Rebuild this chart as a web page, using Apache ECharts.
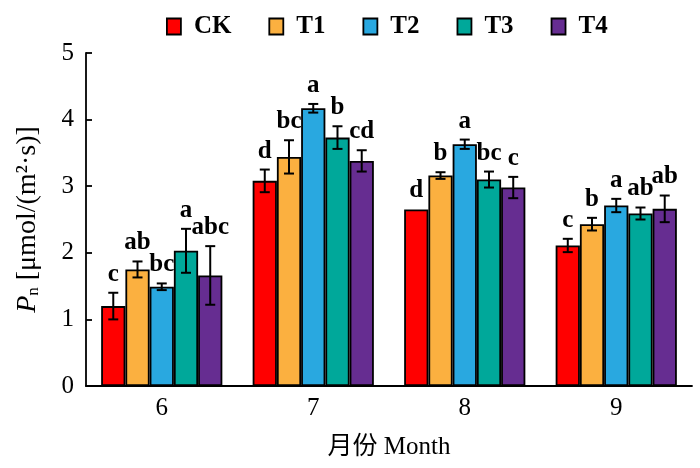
<!DOCTYPE html>
<html>
<head>
<meta charset="utf-8">
<script src="https://cdn.jsdelivr.net/npm/echarts@6/dist/echarts.min.js"></script>
<style>
  html, body { margin: 0; padding: 0; background: #fff; }
  #main { width: 700px; height: 468px; }
</style>
</head>
<body>
<div id="main"></div>
<script>
// months on the x axis
var months = ['6', '7', '8', '9'];
var groups = ['CK', 'T1', 'T2', 'T3', 'T4'];
var colors = ['#ff0000', '#fbb040', '#29a8e0', '#00a89a', '#662d91'];

// Pn means per treatment
var ckVals = [1.20, 3.08, 2.65, 2.11];
var t1Vals = [1.75, 3.44, 3.16, 2.43];
var t2Vals = [1.49, 4.17, 3.63, 2.71];
var t3Vals = [2.03, 3.73, 3.10, 2.59];
var t4Vals = [1.66, 3.38, 2.98, 2.66];

// error bars (+/-)
var ckErr = [0.20, 0.17, 0.00, 0.10];
var t1Err = [0.12, 0.25, 0.05, 0.095];
var t2Err = [0.05, 0.065, 0.07, 0.10];
var t3Err = [0.33, 0.17, 0.12, 0.09];
var t4Err = [0.44, 0.16, 0.16, 0.20];

// significance letters
var ckSig = ['c', 'd', 'd', 'c'];
var t1Sig = ['ab', 'bc', 'b', 'b'];
var t2Sig = ['bc', 'a', 'a', 'a'];
var t3Sig = ['a', 'b', 'bc', 'ab'];
var t4Sig = ['abc', 'cd', 'c', 'ab'];

var yTicks = [0, 1, 2, 3, 4, 5];

var allVals = [ckVals, t1Vals, t2Vals, t3Vals, t4Vals];
var allErr = [ckErr, t1Err, t2Err, t3Err, t4Err];
var allSig = [ckSig, t1Sig, t2Sig, t3Sig, t4Sig];

var serif = '"Liberation Serif", "Times New Roman", serif';

var errData = [];
var errSig = [];
for (var s = 0; s < groups.length; s++) {
    for (var c = 0; c < months.length; c++) {
        errData.push([c, allVals[s][c], allErr[s][c], s]);
        errSig.push(allSig[s][c]);
    }
}

var series = [];
for (var i = 0; i < groups.length; i++) {
    series.push({
        name: groups[i],
        type: 'bar',
        data: allVals[i],
        barGap: '0%',
        barCategoryGap: '20%',
        itemStyle: { color: colors[i], borderColor: '#000', borderWidth: 1.8 }
    });
}

series.push({
    type: 'custom',
    name: 'err',
    data: errData,
    encode: { x: 0, y: 1 },
    z: 10,
    renderItem: function (params, api) {
        var cat = api.value(0), v = api.value(1), e = api.value(2), idx = api.value(3);
        var band = api.size([1, 0])[0];
        var w = band * 0.8 / 5;
        var cx = api.coord([cat, v])[0] + (idx - 2) * w;
        var top = api.coord([cat, v + e])[1];
        var bot = api.coord([cat, v - e])[1];
        var st = { stroke: '#000', lineWidth: 2 };
        var kids = [];
        if (e > 0) {
            kids.push({ type: 'line', shape: { x1: cx, y1: top, x2: cx, y2: bot }, style: st });
            kids.push({ type: 'line', shape: { x1: cx - 5, y1: top, x2: cx + 5, y2: top }, style: st });
            kids.push({ type: 'line', shape: { x1: cx - 5, y1: bot, x2: cx + 5, y2: bot }, style: st });
        }
        kids.push({
            type: 'text',
            style: {
                x: cx, y: top - 6,
                text: errSig[params.dataIndex],
                align: 'center', verticalAlign: 'bottom',
                font: 'bold 25px ' + serif,
                fill: '#000'
            }
        });
        return { type: 'group', children: kids };
    }
});

var myChart = echarts.init(document.getElementById('main'));
var option = {
    animation: false,
    backgroundColor: '#fff',
    legend: {
        data: groups,
        icon: 'rect',
        top: 9,
        left: 161,
        itemWidth: 14,
        itemHeight: 16,
        itemGap: 37,
        textStyle: { fontFamily: serif, fontSize: 25, fontWeight: 'bold', color: '#000', padding: [0, 0, 0, 8] },
        itemStyle: { borderColor: '#000', borderWidth: 1.8 }
    },
    grid: { left: 86, right: 8, top: 53, bottom: 82 },
    xAxis: {
        type: 'category',
        data: months,
        name: '月份 Month',
        nameLocation: 'middle',
        nameGap: 49,
        nameTextStyle: { fontFamily: '"Liberation Serif", "Noto Sans CJK SC", serif', fontSize: 25, color: '#000' },
        axisLine: { lineStyle: { color: '#000', width: 1.8 } },
        axisTick: { inside: true, length: 6, alignWithLabel: false, lineStyle: { color: '#000', width: 1.8 } },
        axisLabel: { fontFamily: serif, fontSize: 25, color: '#000', margin: 10 }
    },
    yAxis: {
        type: 'value',
        min: yTicks[0],
        max: yTicks[yTicks.length - 1],
        interval: 1,
        name: '{i|P}{s|n} [μmol/(m²·s)]',
        nameLocation: 'middle',
        nameRotate: 90,
        nameGap: 44,
        nameTextStyle: {
            fontFamily: serif, fontSize: 28, color: '#000',
            rich: {
                i: { fontFamily: serif, fontSize: 28, fontStyle: 'italic', color: '#000' },
                s: { fontFamily: serif, fontSize: 17, color: '#000', verticalAlign: 'bottom', padding: [10, 0, 0, 0] }
            }
        },
        splitLine: { show: false },
        axisLine: { show: true, lineStyle: { color: '#000', width: 1.8 } },
        axisTick: { show: true, inside: true, length: 6, lineStyle: { color: '#000', width: 1.8 } },
        axisLabel: { fontFamily: serif, fontSize: 25, color: '#000', margin: 12 }
    },
    series: series
};
myChart.setOption(option);
</script>
</body>
</html>
